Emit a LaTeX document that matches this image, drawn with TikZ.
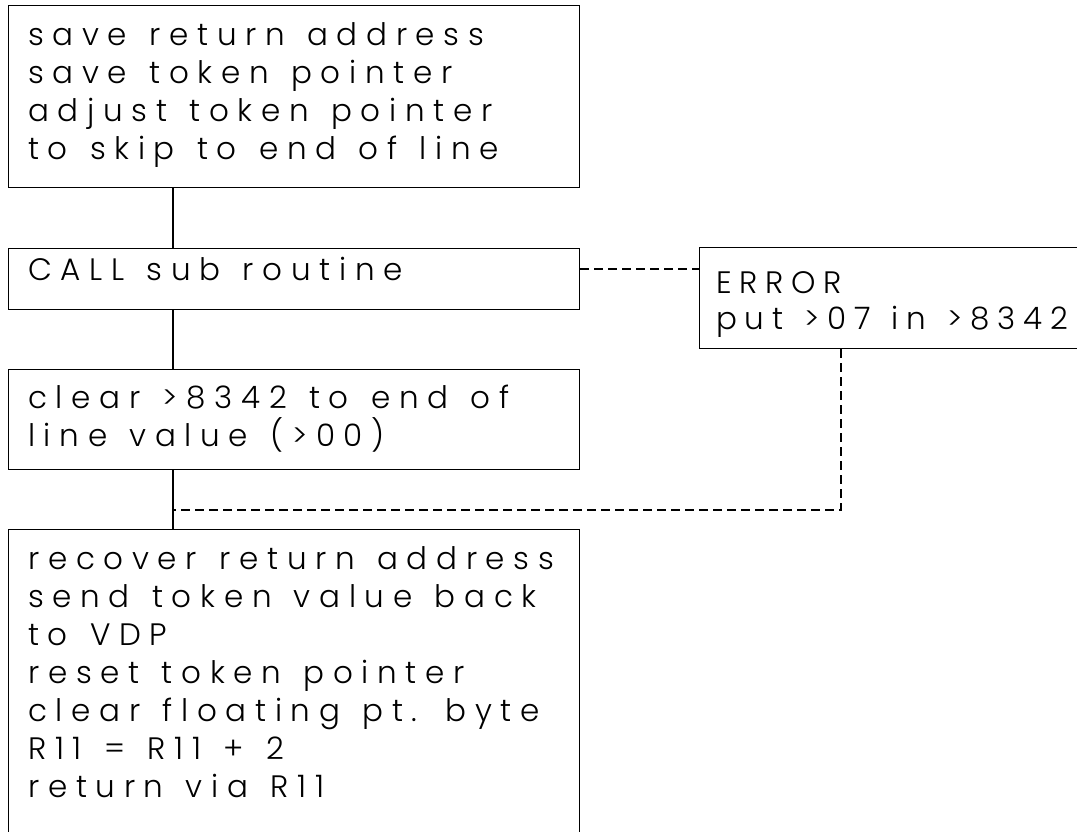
\documentclass[tikz,border=0pt]{standalone}
\usepackage{fontspec}
\setmainfont{Poppins}[UprightFont=* Light, LetterSpace=28, WordSpace=1.3]
\usetikzlibrary{calc}
\begin{document}
\begin{tikzpicture}[x=1pt,y=1pt,
  box/.style={draw, line width=1.3pt, rectangle, inner sep=0pt, anchor=north west},
  txt/.style={anchor=base west, inner sep=0pt, font=\fontsize{31}{38}\selectfont},
  tight/.style={txt, font=\fontsize{31}{38}\selectfont\addfontfeature{LetterSpace=25}},
  link/.style={line width=1.3pt},
  dashlink/.style={line width=1.3pt, dash pattern=on 9pt off 5pt}]
\useasboundingbox (0,0) rectangle (1077,-831);

% flow boxes
\node[box, minimum width=571pt, minimum height=182pt] (b1) at (8,-5) {};
\node[box, minimum width=571pt, minimum height=61pt]  (b2) at (8,-248) {};
\node[box, minimum width=571pt, minimum height=100pt] (b3) at (8,-369) {};
\node[box, minimum width=571pt, minimum height=340pt] (b4) at (8,-529) {};
\node[box, minimum width=400pt, minimum height=101pt] (err) at (699,-247) {};

% box texts
\foreach \t [count=\i] in {save return address, save token pointer,
    adjust token pointer, to skip to end of line}
  \node[txt] (b1t\i) at ($(b1.north west)+(20,{-40-38*(\i-1)})$) {\t};
\node[txt] (b2t1) at ($(b2.north west)+(20,-32)$) {CALL sub routine};
\node[tight] (et1) at ($(err.north west)+(17,-46)$) {ERROR};
\node[tight] (et2) at ($(err.north west)+(17,-82)$) {put >07 in >8342};
\node[txt] (b3t1) at ($(b3.north west)+(20,-39)$) {clear >8342 to end of};
\node[txt] (b3t2) at ($(b3.north west)+(20,-77)$) {line value (>00)};
\foreach \t [count=\i] in {recover return address, send token value back,
    to VDP, reset token pointer, clear floating pt. byte,
    R11 = R11 + 2, return via R11}
  \node[txt] (b4t\i) at ($(b4.north west)+(20,{-40-38*(\i-1)})$) {\t};

% connectors
\coordinate (cx) at (173,0);
\coordinate (ex) at (841,0);
\coordinate (dy) at (0,-269);
\coordinate (join) at (173,-510);
\draw[link] (b1.south -| cx) -- (b2.north -| cx);
\draw[link] (b2.south -| cx) -- (b3.north -| cx);
\draw[link] (b3.south -| cx) -- (b4.north -| cx);
\draw[dashlink] (b2.east |- dy) -- (err.west |- dy);
\draw[dashlink] (err.south -| ex) |- (join);
\end{tikzpicture}
\end{document}
